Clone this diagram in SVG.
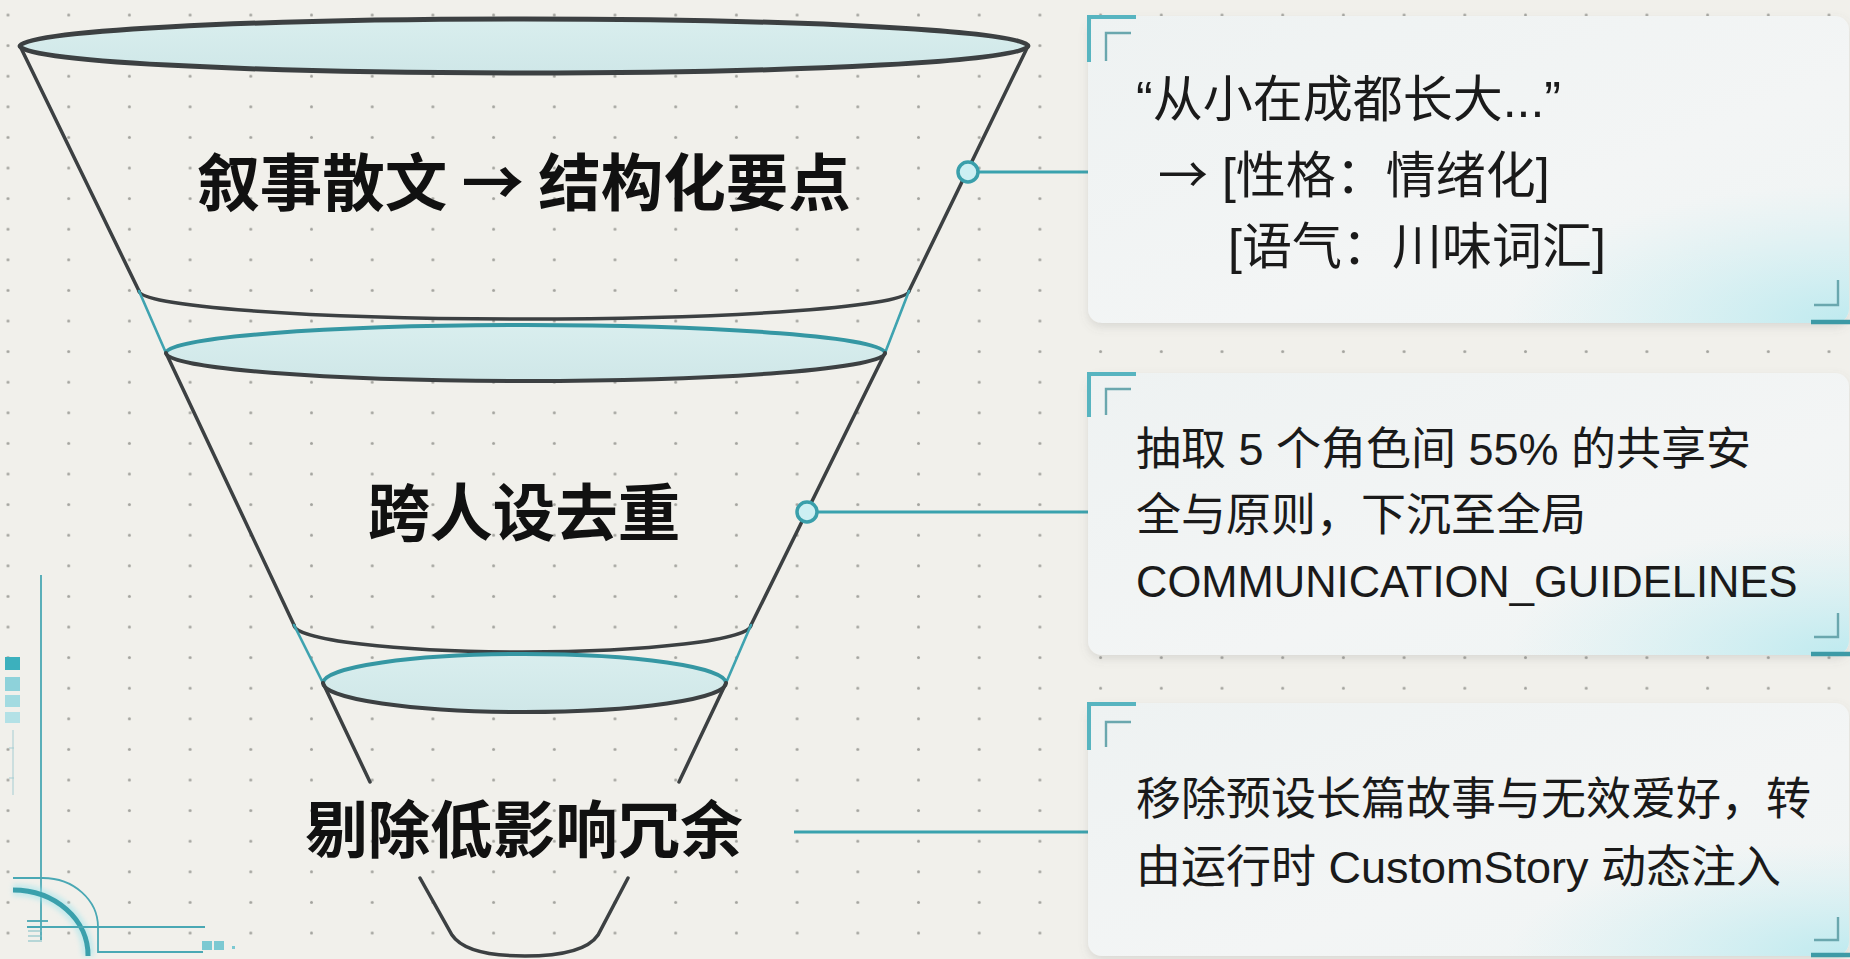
<svg xmlns="http://www.w3.org/2000/svg" width="1850" height="959" viewBox="0 0 1850 959">
<defs>
  <pattern id="dots" x="-22.35" y="-0.3" width="60.7" height="30.6" patternUnits="userSpaceOnUse">
    <circle cx="30.35" cy="15.3" r="1.5" fill="#a3a39e"/>
  </pattern>
  <linearGradient id="cardFill" x1="0" y1="0" x2="1" y2="1">
    <stop offset="0" stop-color="#eef2f2"/>
    <stop offset="0.6" stop-color="#f3f5f5"/>
    <stop offset="1" stop-color="#eef4f4"/>
  </linearGradient>
  <radialGradient id="glow" cx="1" cy="1" r="0.45" fx="1" fy="1">
    <stop offset="0" stop-color="#b5e8ee" stop-opacity="0.85"/>
    <stop offset="1" stop-color="#c9eef2" stop-opacity="0"/>
  </radialGradient>
  <linearGradient id="ellFill" x1="0" y1="0" x2="0" y2="1">
    <stop offset="0" stop-color="#d9eeee"/>
    <stop offset="1" stop-color="#cfe7e8"/>
  </linearGradient>
  <filter id="shadow" x="-5%" y="-10%" width="110%" height="130%">
    <feDropShadow dx="0" dy="4" stdDeviation="5" flood-color="#6b6f70" flood-opacity="0.18"/>
  </filter>
  <filter id="soft" x="-20%" y="-50%" width="140%" height="200%">
    <feGaussianBlur stdDeviation="2.5"/>
  </filter>
</defs>
<style>
  .dark { fill: none; stroke: #3c4042; stroke-width: 3.5; stroke-linecap: round; }
  .teal { fill: none; stroke: #3fa3b0; stroke-width: 2.6; stroke-linecap: round; }
  .tealTop { fill: none; stroke: #3597a3; stroke-width: 4; }
  .ell { fill: url(#ellFill); stroke: none; }
  .label { font-family: "Liberation Sans", "Noto Sans CJK SC", sans-serif; font-weight: 700; font-size: 62.5px; fill: #111; text-anchor: middle; }
  .cjk { font-family: "Noto Sans CJK SC", sans-serif; }
  .card { fill: url(#cardFill); filter: url(#shadow); }
  .cglow { fill: url(#glow); }
  .ctext { font-family: "Liberation Sans", "Noto Sans CJK SC", sans-serif; font-size: 45px; fill: #1a1a1a; }
  .ctext1 { font-size: 50px; }
  .brOut { fill: none; stroke: #57b4c0; stroke-width: 4; }
  .brIn { fill: none; stroke: #6aa7ae; stroke-width: 2.4; }
  .brBot { fill: none; stroke: #3d9aa6; stroke-width: 4.5; }
  .conn { fill: none; stroke: #3aa2ae; stroke-width: 3.2; }
  .connGlow { fill: none; stroke: #8fe0ea; stroke-width: 8; opacity: 0.45; filter: url(#soft); }
  .dot { fill: #cdeff3; stroke: #3a9fab; stroke-width: 3.5; }
  .hud { fill: none; stroke: #4aa8b4; stroke-width: 1.8; }
</style>

<rect width="1850" height="959" fill="#f1f0eb"/>
<rect width="1850" height="959" fill="url(#dots)"/>

<!-- bottom-left HUD decoration -->
<g id="hud-corner">
  <line class="hud" x1="41" y1="575" x2="41" y2="940"/>
  <rect x="5" y="657" width="15" height="13" fill="#3cb0bd"/>
  <rect x="5" y="677" width="15" height="14" fill="#8ed2da"/>
  <rect x="5" y="695" width="15" height="12" fill="#a3dbe1"/>
  <rect x="5" y="712" width="15" height="11" fill="#b3e1e6"/>
  <line x1="13" y1="730" x2="13" y2="795" stroke="#a6cdd2" stroke-width="1"/>
  <line x1="9" y1="748" x2="14" y2="748" stroke="#a6cdd2" stroke-width="1"/>
  <line x1="9" y1="778" x2="14" y2="778" stroke="#a6cdd2" stroke-width="1"/>
  <path d="M13,890 A75,65 0 0 1 88,956" fill="none" stroke="#9fe4ec" stroke-width="12" opacity="0.55" filter="url(#soft)"/>
  <path d="M13,890 A75,65 0 0 1 88,956" fill="none" stroke="#3aa0ac" stroke-width="5"/>
  <path class="hud" d="M13,878 L43,878 A55,49 0 0 1 98,927 L98,952 L203,952"/>
  <line class="hud" x1="27" y1="927" x2="205" y2="927"/>
  <line class="hud" x1="27" y1="921" x2="48" y2="921"/>
  <path d="M28,931 H42 M28,936 H42 M28,941 H42" stroke="#7dbcc4" stroke-width="1.2"/>
  <rect x="202" y="941" width="10" height="9" fill="#7cc9d2"/>
  <rect x="214" y="941" width="10" height="9" fill="#7cc9d2"/>
  <rect x="232" y="946" width="3" height="3" fill="#7cc9d2"/>
</g>

<!-- funnel stage 1 -->
<g id="stage1">
  <line class="dark" x1="20" y1="46" x2="139" y2="291"/>
  <line class="dark" x1="1028" y1="46" x2="909" y2="291"/>
  <path class="dark" d="M139,291 A385,28 0 0 0 909,291"/>
  <ellipse class="ell" cx="524" cy="46" rx="504" ry="27"/>
  <ellipse cx="524" cy="46" rx="504" ry="27" fill="none" stroke="#3c4042" stroke-width="5"/>
  <text class="label" x="524" y="206">叙事散文<tspan class="cjk"> → </tspan>结构化要点</text>
</g>

<!-- funnel stage 2 -->
<g id="stage2">
  <line class="teal" x1="139" y1="291" x2="166" y2="353"/>
  <line class="teal" x1="909" y1="291" x2="885" y2="353"/>
  <ellipse class="ell" cx="525.5" cy="353" rx="359.5" ry="28"/>
  <line class="dark" x1="166" y1="353" x2="294" y2="625"/>
  <line class="dark" x1="885" y1="353" x2="751" y2="625"/>
  <path class="dark" d="M294,625 A228.5,27 0 0 0 751,625"/>
  <path class="tealTop" d="M166,353 A359.5,28 0 0 1 885,353"/>
  <path class="dark" style="stroke-width:4" d="M166,353 A359.5,28 0 0 0 885,353"/>
  <text class="label" x="524" y="536">跨人设去重</text>
</g>

<!-- funnel stage 3 -->
<g id="stage3">
  <line class="teal" x1="294" y1="625" x2="323" y2="683"/>
  <line class="teal" x1="751" y1="625" x2="726" y2="683"/>
  <ellipse class="ell" cx="524.5" cy="683" rx="201.5" ry="29"/>
  <path class="tealTop" d="M323,683 A201.5,29 0 0 1 726,683"/>
  <path class="dark" style="stroke-width:4" d="M323,683 A201.5,29 0 0 0 726,683"/>
  <line class="dark" x1="323" y1="683" x2="370" y2="782"/>
  <line class="dark" x1="726" y1="683" x2="679" y2="782"/>
  <path class="dark" d="M420,878 L452,935 Q466,956 525,956 Q584,956 598,935 L628,878"/>
  <text class="label" x="524" y="853">剔除低影响冗余</text>
</g>

<!-- connectors -->
<g id="connectors">
  <line class="connGlow" x1="978" y1="172" x2="1088" y2="172"/>
  <line class="conn" x1="978" y1="172" x2="1088" y2="172"/>
  <circle class="dot" cx="968" cy="172" r="10"/>
  <line class="connGlow" x1="817" y1="512" x2="1088" y2="512"/>
  <line class="conn" x1="817" y1="512" x2="1088" y2="512"/>
  <circle class="dot" cx="807" cy="512" r="10"/>
  <line class="connGlow" x1="794" y1="832" x2="1088" y2="832"/>
  <line class="conn" x1="794" y1="832" x2="1088" y2="832"/>
</g>

<!-- card 1 -->
<g id="card1">
  <rect class="card" x="1088" y="16" width="761" height="307" rx="14"/>
  <rect class="cglow" x="1088" y="16" width="761" height="307" rx="14"/>
  <path class="brOut" d="M1089,62 V17 H1136"/>
  <path class="brIn" d="M1106,61 V33 H1131"/>
  <path class="brIn" d="M1838,280 V305 H1814"/>
  <line class="brBot" x1="1811" y1="322" x2="1850" y2="322"/>
  <text class="ctext ctext1" x="1136" y="117">“从小在成都长大...”</text>
  <text class="ctext ctext1" x="1158" y="193"><tspan class="cjk">→</tspan> [性格：情绪化]</text>
  <text class="ctext ctext1" x="1228" y="264">[语气：川味词汇]</text>
</g>

<!-- card 2 -->
<g id="card2">
  <rect class="card" x="1088" y="373" width="761" height="282" rx="14"/>
  <rect class="cglow" x="1088" y="373" width="761" height="282" rx="14"/>
  <path class="brOut" d="M1089,417 V374 H1136"/>
  <path class="brIn" d="M1106,415 V389 H1131"/>
  <path class="brIn" d="M1838,613 V637 H1814"/>
  <line class="brBot" x1="1811" y1="654" x2="1850" y2="654"/>
  <text class="ctext" x="1136" y="465">抽取 5 个角色间 55% 的共享安</text>
  <text class="ctext" x="1136" y="531">全与原则，下沉至全局</text>
  <text class="ctext" x="1136" y="597" style="font-size:43.5px">COMMUNICATION_GUIDELINES</text>
</g>

<!-- card 3 -->
<g id="card3">
  <rect class="card" x="1088" y="703" width="761" height="253" rx="14"/>
  <rect class="cglow" x="1088" y="703" width="761" height="253" rx="14"/>
  <path class="brOut" d="M1089,750 V704 H1136"/>
  <path class="brIn" d="M1106,747 V722 H1131"/>
  <path class="brIn" d="M1838,917 V940 H1814"/>
  <line class="brBot" x1="1811" y1="955" x2="1850" y2="955"/>
  <text class="ctext" x="1136" y="815">移除预设长篇故事与无效爱好，转</text>
  <text class="ctext" x="1136" y="883">由运行时 CustomStory 动态注入</text>
</g>
</svg>
